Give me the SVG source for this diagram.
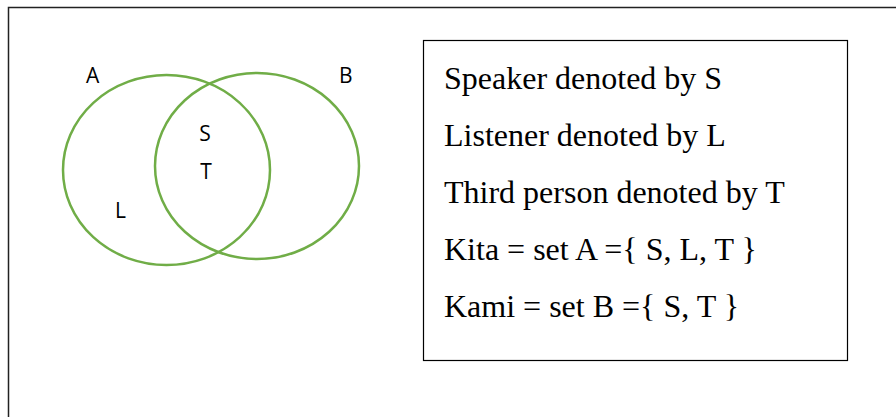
<svg xmlns="http://www.w3.org/2000/svg" width="896" height="417" viewBox="0 0 896 417">
<style>
.set{fill:none;stroke:#70AD47;stroke-width:2.5}
.lbl{font-family:"Open Sans","DejaVu Sans",sans-serif;font-size:21px;fill:#000}
.leg{font-family:"Liberation Serif","Times New Roman",serif;font-size:32px;fill:#000}
</style>
<rect x="0" y="0" width="896" height="417" fill="#fff"/>
<rect id="frame" x="8.5" y="7.5" width="900" height="420" fill="none" stroke="#222" stroke-width="1.5"/>
<g id="setA">
<ellipse class="set" cx="166.5" cy="170" rx="103.5" ry="95"/>
<text class="lbl" x="86" y="83">A</text>
</g>
<g id="setB">
<ellipse class="set" cx="257" cy="166" rx="102" ry="93"/>
<text class="lbl" x="339" y="83">B</text>
</g>
<g id="elements">
<text class="lbl" x="205" y="141" text-anchor="middle">S</text>
<text class="lbl" x="206" y="179" text-anchor="middle">T</text>
<text class="lbl" x="115" y="218">L</text>
</g>
<g id="legend">
<rect x="423.5" y="40.5" width="424" height="320" fill="none" stroke="#000" stroke-width="1.2"/>
<text class="leg" x="444" y="89">Speaker denoted by S</text>
<text class="leg" x="444" y="146">Listener denoted by L</text>
<text class="leg" x="444" y="203">Third person denoted by T</text>
<text class="leg" x="444" y="260">Kita = set A ={ S, L, T }</text>
<text class="leg" x="444" y="317">Kami = set B ={ S, T }</text>
</g>
<g id="connectors"></g>
</svg>
